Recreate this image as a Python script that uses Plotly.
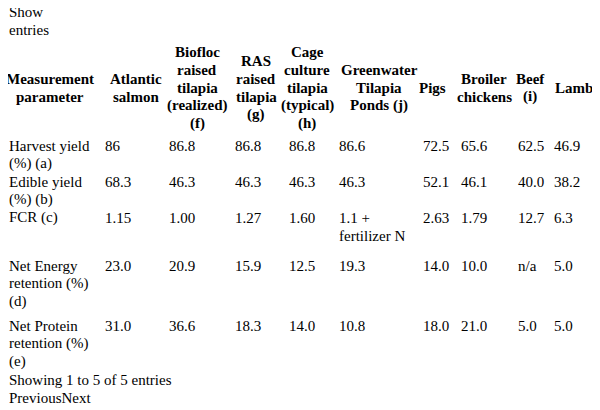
import plotly.graph_objects as go

headers = ["Measurement<br>parameter", "Atlantic<br>salmon", "Biofloc<br>raised<br>tilapia<br>(realized)<br>(f)",
           "RAS<br>raised<br>tilapia<br>(g)", "Cage<br>culture<br>tilapia<br>(typical)<br>(h)",
           "Greenwater<br>Tilapia<br>Ponds (j)", "Pigs", "Broiler<br>chickens", "Beef<br>(i)", "Lamb"]
params = ["Harvest yield<br>(%) (a)", "Edible yield<br>(%) (b)", "FCR (c)",
          "Net Energy<br>retention (%)<br>(d)", "Net Protein<br>retention (%)<br>(e)"]
atlantic_salmon = ["86", "68.3", "1.15", "23.0", "31.0"]
biofloc_tilapia = ["86.8", "46.3", "1.00", "20.9", "36.6"]
ras_tilapia = ["86.8", "46.3", "1.27", "15.9", "18.3"]
cage_tilapia = ["86.8", "46.3", "1.60", "12.5", "14.0"]
greenwater_tilapia = ["86.6", "46.3", "1.1 +<br>fertilizer N", "19.3", "10.8"]
pigs = ["72.5", "52.1", "2.63", "14.0", "18.0"]
broilers = ["65.6", "46.1", "1.79", "10.0", "21.0"]
beef = ["62.5", "40.0", "12.7", "n/a", "5.0"]
lamb = ["46.9", "38.2", "6.3", "5.0", "5.0"]
columns = [params, atlantic_salmon, biofloc_tilapia, ras_tilapia, cage_tilapia,
           greenwater_tilapia, pigs, broilers, beef, lamb]

OFF = 8  # page body margin
W, H = 600 - OFF, 410 - OFF
LH = 17.8
hdr_center = [50, 136, 197, 256, 307, 379, 432, 484, 530, 574]
data_left = [5, 106, 170, 236, 290, 340, 424, 462, 519, 555]
row_top = [138, 174, 210, 258, 318]
FONT = dict(family="Liberation Serif", size=15, color="black")

fig = go.Figure()
ann = []
def add(text, x, y, xa, bold=False):
    t = f"<b>{text}</b>" if bold else text
    px = max(x - OFF - (2 if xa == "left" else 0), 0)
    ann.append(dict(text=t, x=px / W, y=1 - (y - OFF) / H, xref="paper", yref="paper",
                    xanchor=xa, yanchor="middle", showarrow=False, font=FONT, align=xa,
                    borderpad=0))

add("Show", 5, 12, "left")
add("entries", 5, 30, "left")
for h, cx in zip(headers, hdr_center):
    lines = h.split("<br>")
    n = len(lines)
    for i, ln in enumerate(lines):
        add(ln, cx, 88 + (i - (n - 1) / 2) * LH, "center", bold=True)
for col, lx in zip(columns, data_left):
    for v, top in zip(col, row_top):
        for i, ln in enumerate(v.split("<br>")):
            add(ln, lx, top + 8 + i * LH, "left")
add("Showing 1 to 5 of 5 entries", 5, 380, "left")
add("PreviousNext", 5, 398, "left")

fig.update_layout(width=W, height=H, margin=dict(l=0, r=0, t=0, b=0),
                  paper_bgcolor="white", plot_bgcolor="white", annotations=ann,
                  xaxis=dict(visible=False), yaxis=dict(visible=False))
fig.write_html("out.html")
